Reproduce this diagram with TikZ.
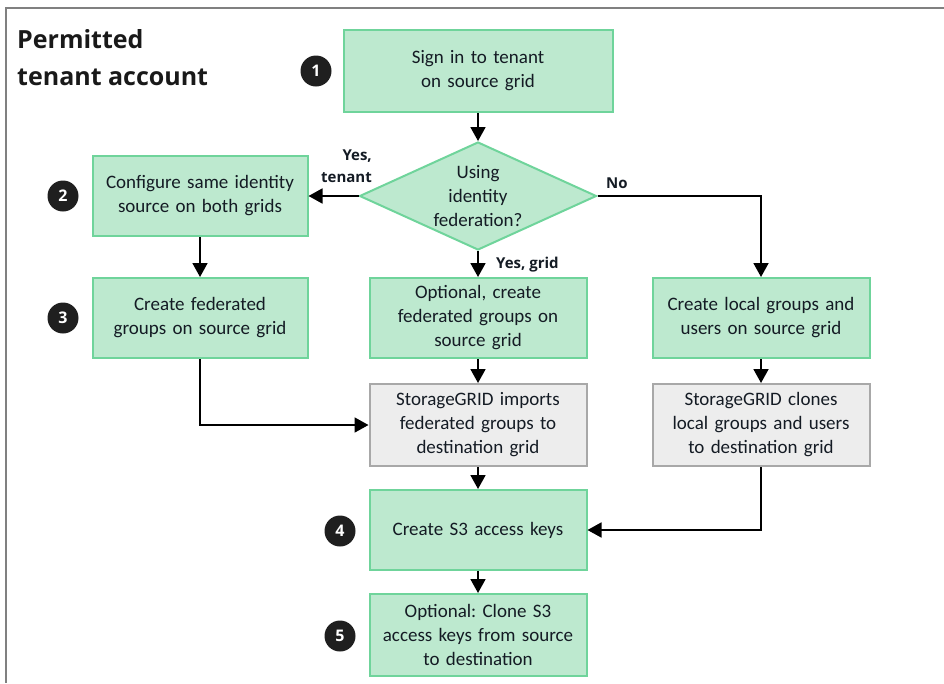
\documentclass[tikz,border=0pt]{standalone}
\usepackage{fontspec}
\setmainfont{Carlito}
\newfontfamily\headfont{Open Sans}
\usetikzlibrary{shapes.geometric}
\usetikzlibrary{arrows.meta}
\definecolor{boxgreen}{HTML}{BDE9CF}
\definecolor{linegreen}{HTML}{6FD49B}
\definecolor{boxgray}{HTML}{EDEDED}
\definecolor{linegray}{HTML}{A8A8A8}
\definecolor{textnavy}{HTML}{141B24}
\frenchspacing

\begin{document}
\begin{tikzpicture}[x=1pt, y=-1pt,
	stepbox/.style={draw=linegreen, fill=boxgreen, line width=2pt, minimum width=217pt, minimum height=80pt,
		inner sep=0pt, text width=209pt, align=center, text=textnavy, font=\fontsize{19}{24}\selectfont},
	sgbox/.style={stepbox, draw=linegray, fill=boxgray},
	badge/.style={circle, fill=black!88, text=white, minimum size=31pt, inner sep=0pt,
		font=\headfont\bfseries\fontsize{16}{16}\selectfont},
	flow/.style={line width=1.8pt, -{Triangle[length=14pt,width=15pt]}},
	answer/.style={font=\headfont\bfseries\fontsize{15}{22}\selectfont, text=textnavy, inner sep=0pt}]
	\useasboundingbox (0,0) rectangle (944,683);
	\draw[gray, line width=2pt] (944,8) -- (6,8) -- (6,683);

	\node[anchor=north west, align=left, inner sep=0pt, text=black!90,
		font=\headfont\bfseries\fontsize{25}{37}\selectfont] (title) at (17,29) {Permitted\\tenant account};

	\node[stepbox, minimum width=269pt, minimum height=82pt] (signin) at (478,71) {Sign in to tenant\\on source grid};
	\node[diamond, draw=linegreen, fill=boxgreen, line width=2pt, aspect=2.2, inner sep=0pt,
		minimum width=237pt, minimum height=108pt, align=center, text=textnavy,
		font=\fontsize{19}{24}\selectfont] (fed) at (478,196) {Using\\identity\\federation?};
	\node[stepbox, minimum width=215pt] (config) at (200,196) {Configure same identity\\source on both grids};
	\node[stepbox, minimum width=215pt] (fedgrp) at (200,318) {Create federated\\groups on source grid};
	\node[stepbox] (optgrp) at (478,318) {Optional, create\\federated groups on\\source grid};
	\node[stepbox] (localgrp) at (761,318) {Create local groups and\\users on source grid};
	\node[sgbox, minimum height=82pt] (imports) at (478,425) {StorageGRID imports\\federated groups to\\destination grid};
	\node[sgbox, minimum height=82pt] (clones) at (761,425) {StorageGRID clones\\local groups and users\\to destination grid};
	\node[stepbox] (keys) at (478,530) {Create S3 access keys};
	\node[stepbox, minimum height=82pt] (clonekeys) at (478,635) {Optional: Clone S3\\access keys from source\\to destination};

	\foreach \n/\bx/\by in {1/316/71, 2/63/196, 3/63/318, 4/340/531, 5/340/636}
	\node[badge] (badge\n) at (\bx,\by) {\n};

	\draw[flow] (signin) -- (fed);
	\draw[flow] (fed.west) -- (config.east);
	\node[answer, align=right, anchor=south east] (yestenant) at (372,183) {Yes,\\tenant};
	\draw[flow] (fed.east) -| (localgrp.north);
	\node[answer, anchor=south west] (no) at (606,189) {No};
	\draw[flow] (fed) -- (optgrp);
	\node[answer, anchor=base west] (yesgrid) at (496,268) {Yes, grid};
	\draw[flow] (config) -- (fedgrp);
	\draw[flow] (fedgrp.south) |- (imports.west);
	\draw[flow] (optgrp) -- (imports);
	\draw[flow] (localgrp) -- (clones);
	\draw[flow] (imports) -- (keys);
	\draw[flow] (clones.south) |- (keys.east);
	\draw[flow] (keys) -- (clonekeys);
\end{tikzpicture}
\end{document}
